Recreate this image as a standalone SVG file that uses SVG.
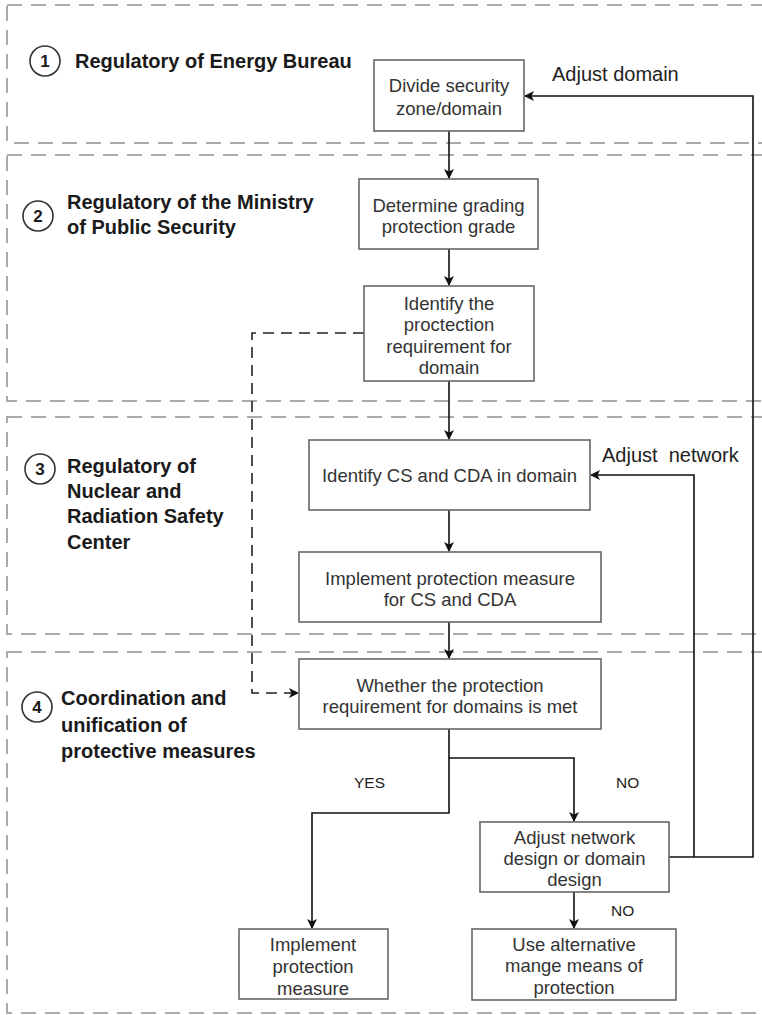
<svg xmlns="http://www.w3.org/2000/svg" width="762" height="1015" viewBox="0 0 762 1015">
<style>
.lane{fill:none;stroke:#aaa;stroke-width:2;stroke-dasharray:15 9}
.box{fill:#fff;stroke:#666;stroke-width:1.6}
.t{font-family:"Liberation Sans",Arial,sans-serif;font-size:18.5px;fill:#333;text-anchor:middle}
.lt{font-family:"Liberation Sans",Arial,sans-serif;font-size:20px;font-weight:bold;fill:#1a1a1a}
.num{font-family:"Liberation Sans",Arial,sans-serif;font-size:17px;font-weight:bold;fill:#1a1a1a;text-anchor:middle}
.circ{fill:none;stroke:#333;stroke-width:1.6}
.c{fill:none;stroke:#111;stroke-width:1.6}
.d{fill:none;stroke:#222;stroke-width:1.6;stroke-dasharray:11 7}
.lab{font-family:"Liberation Sans",Arial,sans-serif;font-size:20px;fill:#222}
.yn{font-family:"Liberation Sans",Arial,sans-serif;font-size:15.5px;fill:#222}
</style>
<defs>
<marker id="ah" markerWidth="10" markerHeight="10" refX="9" refY="5" orient="auto" markerUnits="userSpaceOnUse">
<path d="M0,0 L10,5 L0,10 L2.5,5 Z" fill="#111"/>
</marker>
</defs>
<rect width="762" height="1015" fill="#fff"/>
<g id="lanes">
<rect class="lane" x="7" y="5" width="770" height="138"/>
<rect class="lane" x="7" y="155" width="770" height="246"/>
<rect class="lane" x="7" y="417" width="770" height="217"/>
<rect class="lane" x="7" y="652" width="770" height="361"/>
</g>
<g id="lane1-label">
<circle class="circ" cx="45" cy="61" r="15"/><text class="num" x="45" y="67">1</text>
<text class="lt" x="75" y="68">Regulatory of Energy Bureau</text>
</g>
<g id="lane2-label">
<circle class="circ" cx="38" cy="216" r="15"/><text class="num" x="38" y="222">2</text>
<text class="lt" x="67" y="209">Regulatory of the Ministry</text>
<text class="lt" x="67" y="234">of Public Security</text>
</g>
<g id="lane3-label">
<circle class="circ" cx="40" cy="469" r="15"/><text class="num" x="40" y="475">3</text>
<text class="lt" x="67" y="473">Regulatory of</text>
<text class="lt" x="67" y="498">Nuclear and</text>
<text class="lt" x="67" y="523">Radiation Safety</text>
<text class="lt" x="67" y="549">Center</text>
</g>
<g id="lane4-label">
<circle class="circ" cx="37" cy="707" r="15"/><text class="num" x="37" y="713">4</text>
<text class="lt" x="61" y="705">Coordination and</text>
<text class="lt" x="61" y="732">unification of</text>
<text class="lt" x="61" y="758">protective measures</text>
</g>
<g id="connectors">
<path class="c" d="M449,131 V178" marker-end="url(#ah)"/>
<path class="c" d="M449,249 V285" marker-end="url(#ah)"/>
<path class="c" d="M449,381 V439" marker-end="url(#ah)"/>
<path class="c" d="M449,510 V551" marker-end="url(#ah)"/>
<path class="c" d="M449,622 V658" marker-end="url(#ah)"/>
<path class="d" d="M364,333 H252 V693 H298" marker-end="url(#ah)"/>
<path class="c" d="M449,729 V758 H574 V821" marker-end="url(#ah)"/>
<path class="c" d="M449,758 V813 H312 V928" marker-end="url(#ah)"/>
<path class="c" d="M574,892 V928" marker-end="url(#ah)"/>
<path class="c" d="M669,857 H753 V96 H525" marker-end="url(#ah)"/>
<path class="c" d="M694,857 V475 H591" marker-end="url(#ah)"/>
<text class="lab" x="552" y="81">Adjust domain</text>
<text class="lab" x="602" y="462" xml:space="preserve">Adjust  network</text>
<text class="yn" x="354" y="788">YES</text>
<text class="yn" x="616" y="788">NO</text>
<text class="yn" x="611" y="916">NO</text>
</g>
<g id="n1"><rect class="box" x="374" y="60" width="150" height="71"/>
<text class="t" x="449" y="91.5">Divide security</text><text class="t" x="449" y="114.5">zone/domain</text></g>
<g id="n2"><rect class="box" x="359" y="179" width="179" height="70"/>
<text class="t" x="448.5" y="211.5">Determine grading</text><text class="t" x="448.5" y="232.5">protection grade</text></g>
<g id="n3"><rect class="box" x="364" y="286" width="170" height="95"/>
<text class="t" x="449" y="309.5">Identify the</text><text class="t" x="449" y="330.5">proctection</text><text class="t" x="449" y="352.5">requirement for</text><text class="t" x="449" y="373.5">domain</text></g>
<g id="n4"><rect class="box" x="309" y="440" width="281" height="70"/>
<text class="t" x="449.5" y="481.5">Identify CS and CDA in domain</text></g>
<g id="n5"><rect class="box" x="299" y="552" width="302" height="70"/>
<text class="t" x="450" y="584.5">Implement protection measure</text><text class="t" x="450" y="605.5">for CS and CDA</text></g>
<g id="n6"><rect class="box" x="299" y="659" width="302" height="70"/>
<text class="t" x="450" y="691.5">Whether the protection</text><text class="t" x="450" y="712.5">requirement for domains is met</text></g>
<g id="n7"><rect class="box" x="480" y="822" width="189" height="70"/>
<text class="t" x="574.5" y="843.5">Adjust network</text><text class="t" x="574.5" y="864.5">design or domain</text><text class="t" x="574.5" y="885.5">design</text></g>
<g id="n8"><rect class="box" x="472" y="929" width="204" height="71"/>
<text class="t" x="574" y="950.5">Use alternative</text><text class="t" x="574" y="971.5">mange means of</text><text class="t" x="574" y="993.5">protection</text></g>
<g id="n9"><rect class="box" x="239" y="929" width="149" height="70"/>
<text class="t" x="313" y="950.5">Implement</text><text class="t" x="313" y="972.5">protection</text><text class="t" x="313" y="994.5">measure</text></g>
</svg>
